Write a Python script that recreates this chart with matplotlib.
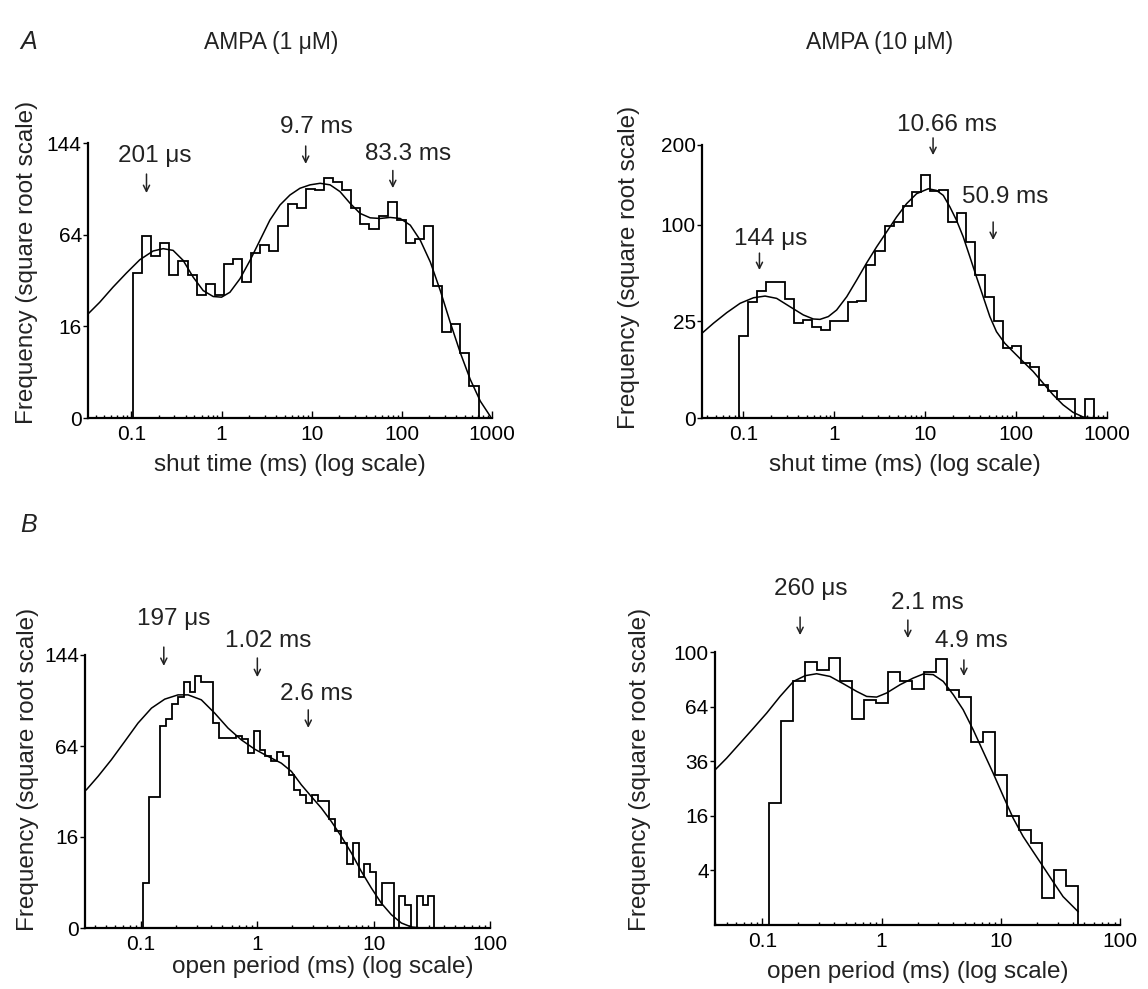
import numpy as np
import matplotlib
matplotlib.use("Agg")
import matplotlib.pyplot as plt
import matplotlib.transforms as mtransforms
from matplotlib.ticker import LogLocator, NullFormatter, NullLocator

plt.rcParams['font.family'] = ['Liberation Sans', 'DejaVu Sans']

# ---------------- data ----------------
# A, AMPA 1 uM : shut times
a1_edges_span = (0.104, 710.0)       # first / last bin edge (ms), log-spaced bins
a1_counts = [40, 63, 50, 58, 39, 47, 39, 29, 34, 29, 45, 48, 35, 52, 57, 53, 70, 87, 84,
             100, 99, 110, 106, 99, 84, 72, 68, 78, 89, 75, 58, 61, 70, 33, 14, 17, 8, 2]
a1_fit_t = [0.033, 0.0445, 0.0625, 0.088, 0.124, 0.174, 0.225, 0.290, 0.375, 0.484,
            0.626, 0.808, 1.0, 1.238, 1.60, 2.07, 2.67, 3.44, 4.45, 5.74,
            7.41, 9.58, 12.4, 16.0, 20.6, 26.7, 34.4, 44.5, 57.4, 74.1,
            95.8, 124, 160, 207, 267, 344, 445, 574, 742, 958]
a1_fit_f = [20.6, 25.5, 32.6, 40.0, 47.7, 53.1, 54.6, 53.5, 47.3, 37.8,
            30.9, 28.1, 27.8, 30.1, 36.9, 47.3, 60.2, 74.6, 86.4, 94.7,
            100.5, 103.5, 104.9, 103.5, 97.6, 87.7, 79.7, 76.3, 75.8, 76.6,
            75.8, 70.8, 60.2, 46.3, 30.9, 17.4, 8.1, 2.83, 0.54, 0.005]

# A, AMPA 10 uM : shut times
a10_edges_span = (0.0896, 713.0)
a10_counts = [18, 36, 43, 50, 50, 38, 24, 26, 22, 21, 25, 25, 36, 37, 63, 75, 99, 103, 121,
              137, 159, 138, 140, 103, 113, 83, 55, 39, 25, 13, 14, 8, 7, 3, 2, 1, 1, 0, 1]
a10_fit_t = [0.0357, 0.0468, 0.0656, 0.0919, 0.129, 0.173, 0.232, 0.326, 0.456, 0.588,
             0.695, 0.859, 1.06, 1.37, 1.76, 2.27, 2.92, 3.76, 4.84, 6.23,
             8.03, 10.8, 13.3, 15.8, 18.7, 22.1, 26.2, 31.0, 36.6, 43.4,
             51.4, 60.8, 75.0, 92.7, 119, 154, 198, 255, 328, 423, 545, 701]
a10_fit_f = [19.6, 24.1, 29.8, 35.3, 38.8, 39.9, 38.4, 33.2, 28.5, 26.3,
             26.1, 27.6, 31.3, 39.5, 51.0, 64.6, 78.6, 92.9, 108.4, 123.2,
             135.0, 141.0, 139.0, 133.0, 119.5, 104.9, 88.0, 69.7, 53.5, 39.5,
             27.6, 20.0, 15.0, 11.8, 8.56, 5.81, 3.27, 1.45, 0.47, 0.086, 0.003, 0.0]

# B, AMPA 1 uM : open periods
b1_edges_span = (0.104, 33.2)
b1_counts = [4, 33, 33, 79, 84, 97, 103, 117, 108, 123, 117, 117, 81, 70, 70, 70, 71, 69,
             59, 75, 61, 57, 54, 60, 57, 45, 37, 34, 30, 34, 31, 31, 23, 18, 14, 8, 14, 5,
             8, 6, 1, 4, 4, 0, 2, 1, 0, 2, 1, 2]
b1_fit_t = [0.0339, 0.0427, 0.0556, 0.0724, 0.0942, 0.123, 0.160, 0.208, 0.254, 0.330,
            0.430, 0.560, 0.728, 0.948, 1.235, 1.608, 1.96, 2.39, 2.91, 3.55,
            4.33, 5.27, 6.43, 7.83, 9.55, 11.6, 14.2, 17.3, 21.1, 25.7]
b1_fit_f = [36.9, 44.4, 54.7, 67.2, 81.1, 93.4, 101.2, 105.0, 105.0, 100.6,
            89.2, 77.2, 68.4, 61.8, 56.9, 52.5, 47.4, 39.6, 33.4, 27.8,
            21.9, 16.2, 10.9, 6.2, 3.09, 1.21, 0.34, 0.048, 0.002, 0.0]

# B, AMPA 10 uM : open periods
b10_edges_span = (0.114, 44.5)
b10_counts = [20, 56, 80, 93, 87, 96, 80, 57, 68, 66, 86, 80, 75, 86, 95, 74, 70, 45, 50,
              30, 16, 12, 9, 1, 4, 2]
b10_fit_t = [0.0401, 0.0502, 0.0650, 0.0841, 0.1087, 0.1406, 0.182, 0.228, 0.285, 0.369,
             0.477, 0.618, 0.749, 0.908, 1.10, 1.43, 1.84, 2.23, 2.71, 3.29,
             3.99, 4.83, 5.87, 7.11, 8.63, 10.5, 12.7, 15.4, 18.7, 22.6,
             27.5, 33.3, 39.1, 44.5]
b10_fit_f = [32.3, 37.4, 44.4, 52.0, 60.3, 70.1, 79.6, 83.4, 84.7, 82.9,
             78.1, 73.2, 70.1, 69.7, 72.2, 77.5, 81.8, 84.5, 84.1, 79.6,
             71.2, 62.2, 51.1, 40.4, 30.9, 22.2, 15.3, 10.5, 7.2, 4.6,
             2.5, 1.08, 0.54, 0.24]

# time-constant labels: text, arrow x (ms), text x (ms)
a1_taus = [("201 μs", 0.147, 0.180), ("9.7 ms", 8.58, 11.4), ("83.3 ms", 79.4, 116.6)]
a10_taus = [("144 μs", 0.150, 0.198), ("10.66 ms", 12.2, 17.5), ("50.9 ms", 55.9, 75.7)]
b1_taus = [("197 μs", 0.157, 0.191), ("1.02 ms", 1.0, 1.24), ("2.6 ms", 2.74, 3.2)]
b10_taus = [("260 μs", 0.207, 0.255), ("2.1 ms", 1.66, 2.44), ("4.9 ms", 4.90, 5.71)]

x_ticks_a = [0.1, 1, 10, 100, 1000]
x_ticks_b = [0.1, 1, 10, 100]
a1_yticks = [0, 16, 64, 144]
a10_yticks = [0, 25, 100, 200]
b1_yticks = [0, 16, 64, 144]
b10_yticks = [4, 16, 36, 64, 100]

# ---------------- figure ----------------
W, H = 1148, 989
fig = plt.figure(figsize=(W / 100, H / 100), dpi=100)
TXT = '#222222'


def px_axes(l, r, t, b):
    return fig.add_axes([l / W, (H - b) / H, (r - l) / W, (b - t) / H])


def fwd(y):
    return np.sqrt(np.clip(y, 0, None))


def inv(s):
    return np.square(s)


def setup(ax, edges_span, counts, fit_t, fit_f, xlim, ylim, yticks, xticks,
          xlabel, xlab_pos, ylab_pos, taus, tau_pos):
    edges = np.geomspace(edges_span[0], edges_span[1], len(counts) + 1)
    ax.stairs(counts, edges, baseline=0, color='black', lw=1.3)
    ax.plot(fit_t, fit_f, color='black', lw=1.1)
    ax.set_xscale('log')
    ax.set_yscale('function', functions=(fwd, inv))
    ax.set_xlim(*xlim)
    ax.set_ylim(*ylim)
    ax.set_xticks(xticks, [f"{v:g}" for v in xticks])
    ax.xaxis.set_minor_locator(LogLocator(base=10, subs=np.arange(2, 10), numticks=20))
    ax.xaxis.set_minor_formatter(NullFormatter())
    ax.set_yticks(yticks, [str(v) for v in yticks])
    ax.yaxis.set_minor_locator(NullLocator())
    for s in ('top', 'right'):
        ax.spines[s].set_visible(False)
    for s in ('left', 'bottom'):
        ax.spines[s].set_linewidth(1.6)
    ax.tick_params(axis='x', which='major', direction='in', length=5, width=1.0,
                   labelsize=15, pad=5, colors='black')
    ax.tick_params(axis='x', which='minor', direction='in', length=2.5, width=1.0)
    ax.tick_params(axis='y', which='major', direction='out', length=3.5, width=1.0,
                   labelsize=15, pad=1)
    ax.set_xlabel(xlabel, fontsize=17.5, color=TXT, va='center')
    ax.xaxis.set_label_coords(*xlab_pos)
    ax.set_ylabel('Frequency (square root scale)', fontsize=17.5, color=TXT, va='center')
    ax.yaxis.set_label_coords(*ylab_pos)
    ax.patch.set_alpha(0)
    tr = mtransforms.blended_transform_factory(ax.transData, ax.transAxes)
    for (label, ax_x, tx_x), (ty, a_top, a_bot) in zip(taus, tau_pos):
        ax.text(tx_x, ty, label, transform=tr, ha='center', va='center',
                fontsize=17.5, color=TXT, clip_on=False)
        ax.annotate('', xy=(ax_x, a_bot), xytext=(ax_x, a_top), xycoords=tr,
                    textcoords=tr, annotation_clip=False,
                    arrowprops=dict(arrowstyle='->', lw=1.1, color=TXT,
                                    shrinkA=0, shrinkB=0, mutation_scale=11))


ax1 = px_axes(88, 492, 143, 418)
setup(ax1, a1_edges_span, a1_counts, a1_fit_t, a1_fit_f, (0.033, 1000), (0, 144),
      a1_yticks, x_ticks_a, 'shut time (ms) (log scale)', (0.5, -0.171), (-0.150, 0.567),
      a1_taus, [(0.953, 0.887, 0.818), (1.058, 0.989, 0.924), (0.96, 0.90, 0.836)])

ax2 = px_axes(702, 1107, 145, 418)
setup(ax2, a10_edges_span, a10_counts, a10_fit_t, a10_fit_f, (0.035, 1000), (0, 200),
      a10_yticks, x_ticks_a, 'shut time (ms) (log scale)', (0.5, -0.172), (-0.180, 0.55),
      a10_taus, [(0.656, 0.604, 0.542), (1.073, 1.026, 0.963), (0.81, 0.718, 0.652)])

ax3 = px_axes(85, 490, 655, 928)
setup(ax3, b1_edges_span, b1_counts, b1_fit_t, b1_fit_f, (0.033, 100), (0, 144),
      b1_yticks, x_ticks_b, 'open period (ms) (log scale)', (0.588, -0.143), (-0.140, 0.58),
      b1_taus, [(1.132, 1.029, 0.960), (1.051, 0.989, 0.919), (0.857, 0.799, 0.733)])

ax4 = px_axes(715, 1120, 652, 925)
setup(ax4, b10_edges_span, b10_counts, b10_fit_t, b10_fit_f, (0.040, 100), (0, 100),
      b10_yticks, x_ticks_b, 'open period (ms) (log scale)', (0.5, -0.172), (-0.185, 0.57),
      b10_taus, [(1.231, 1.128, 1.062), (1.179, 1.117, 1.051), (1.040, 0.971, 0.912)])

fig.text(20 / W, 1 - 42 / H, 'A', fontsize=18, style='italic', color=TXT, ha='left', va='center')
fig.text(20 / W, 1 - 525 / H, 'B', fontsize=18, style='italic', color=TXT, ha='left', va='center')
fig.text(271 / W, 1 - 42 / H, 'AMPA (1 μM)', fontsize=16.5, color=TXT, ha='center', va='center')
fig.text(880 / W, 1 - 42 / H, 'AMPA (10 μM)', fontsize=16.5, color=TXT, ha='center', va='center')

fig.savefig('out.png', dpi=100, facecolor='white')
